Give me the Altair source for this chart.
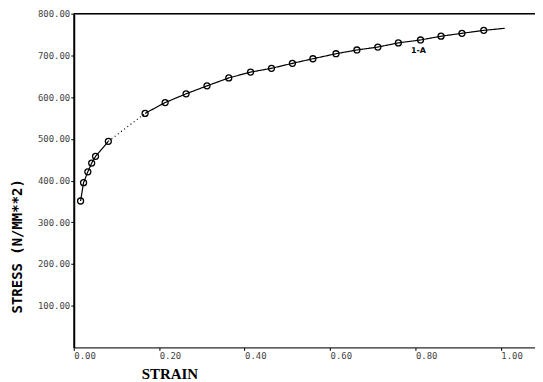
import altair as alt
import pandas as pd

# Data
strain = [0.016, 0.023, 0.033, 0.042, 0.051, 0.081, 0.167, 0.214, 0.263, 0.312,
          0.363, 0.414, 0.463, 0.512, 0.560, 0.614, 0.663, 0.712, 0.760, 0.812,
          0.860, 0.909, 0.960]
stress = [351, 395, 421, 442, 458, 494, 561, 587, 608, 627,
          646, 660, 669, 681, 692, 704, 713, 720, 730, 737,
          746, 753, 760]
end_strain = 1.009
end_stress = 765
x_ticks = [0.0, 0.2, 0.4, 0.6, 0.8, 1.0]
y_ticks = [100, 200, 300, 400, 500, 600, 700, 800]
curve_label = "1-A"
label_strain = 0.80
label_stress = 711

pts = pd.DataFrame({"strain": strain, "stress": stress})

rows = []
order = 0
for i in range(0, 6):
    rows.append({"strain": strain[i], "stress": stress[i], "seg": "a", "o": order}); order += 1
for i in range(5, 7):
    rows.append({"strain": strain[i], "stress": stress[i], "seg": "b", "o": order}); order += 1
for i in range(6, len(strain)):
    rows.append({"strain": strain[i], "stress": stress[i], "seg": "c", "o": order}); order += 1
rows.append({"strain": end_strain, "stress": end_stress, "seg": "c", "o": order})
line_df = pd.DataFrame(rows)

xscale = alt.Scale(domain=[0, 1.08], nice=False, zero=False)
yscale = alt.Scale(domain=[0, 800], nice=False)

xaxis = alt.Axis(values=x_ticks, format=".2f", title="STRAIN", grid=False,
                 labelAlign="left", labelBaseline="top", labelPadding=1, tickSize=3,
                 labelFont="DejaVu Sans Mono", labelFontSize=9, labelColor="#444",
                 titleFont="Liberation Serif", titleFontSize=15, titleFontWeight="bold",
                 titleX=96, titleY=26, titleAlign="center", titleBaseline="middle",
                 domainColor="black", domainWidth=1, tickColor="black")
yaxis = alt.Axis(values=y_ticks, format=".2f", title="STRESS  (N/MM**2)", grid=False,
                 labelFont="DejaVu Sans Mono", labelFontSize=9, labelColor="#444",
                 labelPadding=1, tickSize=3,
                 titleFont="DejaVu Sans Mono", titleFontSize=14, titleFontWeight="bold",
                 titleAngle=270, titleX=-56, titleY=233, titleAlign="center",
                 titleBaseline="middle",
                 domainColor="black", domainWidth=2, tickColor="black")

line = alt.Chart(line_df).mark_line(color="black", strokeWidth=1.2).encode(
    x=alt.X("strain:Q", scale=xscale, axis=xaxis),
    y=alt.Y("stress:Q", scale=yscale, axis=yaxis),
    detail="seg:N",
    order="o:Q",
    strokeDash=alt.StrokeDash("seg:N", legend=None,
                              scale=alt.Scale(domain=["a", "b", "c"],
                                              range=[[1, 0], [1, 3], [1, 0]])),
)

circles = alt.Chart(pts).mark_point(shape="circle", filled=False, color="black",
                                    size=36, strokeWidth=1.3, opacity=1).encode(
    x=alt.X("strain:Q", scale=xscale),
    y=alt.Y("stress:Q", scale=yscale),
)

top = alt.Chart(pd.DataFrame({"v": [800]})).mark_rule(color="black", strokeWidth=1.5).encode(
    y=alt.Y("v:Q", scale=yscale),
    x=alt.value(0),
    x2=alt.value(463),
)

label = alt.Chart(pd.DataFrame({"strain": [label_strain], "stress": [label_stress],
                                "t": [curve_label]})).mark_text(
    font="DejaVu Sans", fontSize=8, fontWeight="bold", color="black", dx=3).encode(
    x=alt.X("strain:Q", scale=xscale),
    y=alt.Y("stress:Q", scale=yscale),
    text="t:N",
)

chart = alt.layer(top, line, circles, label).properties(
    width=463, height=335,
    autosize=alt.AutoSizeParams(type="none"),
    padding={"left": 66, "top": 5, "right": 0, "bottom": 34},
).configure_view(stroke=None).configure(background="white")

chart.save("out.html", embed_options={"renderer": "svg", "actions": False})
